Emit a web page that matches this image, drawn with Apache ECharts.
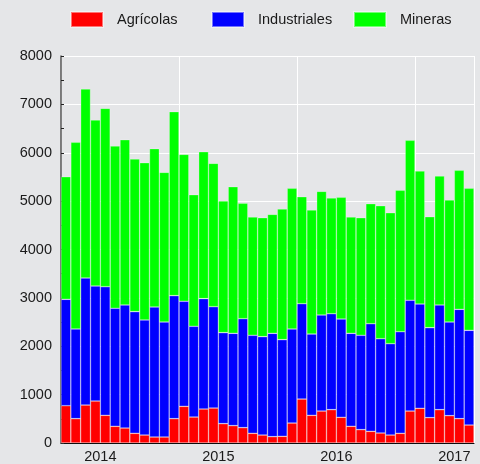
<!DOCTYPE html>
<html>
<head>
<meta charset="utf-8">
<script src="https://cdn.jsdelivr.net/npm/echarts@6/dist/echarts.min.js"></script>
<style>
html,body{margin:0;padding:0;background:#e5e6e8;}
#chart{width:480px;height:464px;}
</style>
</head>
<body>
<div id="chart"></div>
<script>
// Monthly categories Sep 2013 - Feb 2017
var months = [
  '2013-09','2013-10','2013-11','2013-12',
  '2014-01','2014-02','2014-03','2014-04','2014-05','2014-06','2014-07','2014-08','2014-09','2014-10','2014-11','2014-12',
  '2015-01','2015-02','2015-03','2015-04','2015-05','2015-06','2015-07','2015-08','2015-09','2015-10','2015-11','2015-12',
  '2016-01','2016-02','2016-03','2016-04','2016-05','2016-06','2016-07','2016-08','2016-09','2016-10','2016-11','2016-12',
  '2017-01','2017-02'
];
var agricolas = [771,503,785,868,572,345,310,200,165,124,124,503,758,537,703,723,400,359,317,200,165,131,138,413,909,572,661,689,531,345,276,241,207,165,200,661,717,524,689,565,503,372];
var industriales = [2199,1854,2626,2377,2659,2439,2543,2515,2378,2687,2377,2543,2171,1875,2281,2095,1881,1908,2253,2026,2033,2136,1998,1944,1971,1681,1985,1984,2032,1922,1950,2225,1949,1888,2101,2289,2156,1860,2164,1936,2260,1957];
var mineras = [2535,3859,3907,3432,3687,3356,3417,3156,3252,3274,3094,3804,3038,2722,3038,2963,2722,3032,2385,2446,2460,2460,2701,2908,2212,2563,2556,2392,2516,2405,2432,2482,2750,2708,2923,3307,2750,2295,2666,2522,2874,2936];
var yearTickPositions = [4,16,28,40];
var yearTickLabels = ['2014','2015','2016','2017'];
var seriesNames = ['Agrícolas','Industriales','Mineras'];

var FONT = 'Liberation Sans, Arial, sans-serif';
var chart = echarts.init(document.getElementById('chart'), null, {renderer:'canvas'});
var barStyle = function(c){ return {color:c, borderColor:'rgba(255,255,255,0.45)', borderWidth:0.6}; };
var legendLefts = [70, 211, 353];
var legends = seriesNames.map(function(n, i){
  return {
    left:legendLefts[i], top:11, padding:0, itemWidth:32, itemHeight:15,
    icon:'rect',
    textStyle:{fontFamily:FONT, fontSize:14.5, color:'#1a1a1a', padding:[0,0,0,9]},
    data:[n]
  };
});
chart.setOption({
  backgroundColor:'#e5e6e8',
  animation:false,
  textStyle:{fontFamily:FONT},
  color:['#ff0000','#0000ff','#00ff00'],
  legend:legends,
  grid:{left:61, right:6, top:56, bottom:21, containLabel:false},
  xAxis:[
    {type:'category', data:months, boundaryGap:true,
     axisLine:{show:true, lineStyle:{color:'#000', width:1}},
     axisTick:{show:false}, axisLabel:{show:false}, splitLine:{show:false}},
    {type:'value', min:0, max:42, interval:12, position:'bottom',
     axisLine:{show:false}, axisTick:{show:false},
     splitLine:{show:true, lineStyle:{color:'#ffffff', width:1}},
     axisLabel:{show:true, customValues:yearTickPositions, margin:6,
       formatter:function(v){var i=yearTickPositions.indexOf(v); return i>=0?yearTickLabels[i]:'';},
       fontFamily:FONT, fontSize:14.5, color:'#1a1a1a'}}
  ],
  yAxis:{
    type:'value', min:0, max:8000, interval:1000,
    axisLine:{show:true, lineStyle:{color:'#555', width:1.5}},
    axisTick:{show:true, inside:true, length:3, lineStyle:{color:'#222'}},
    minorTick:{show:true, splitNumber:2, length:3, lineStyle:{color:'#222'}},
    splitLine:{show:true, lineStyle:{color:'#ffffff', width:1}},
    axisLabel:{fontFamily:FONT, fontSize:14.5, color:'#1a1a1a', margin:9,
      formatter:function(v){return String(v);}}
  },
  series:[
    {name:seriesNames[0], type:'bar', stack:'t', data:agricolas, barCategoryGap:'0%', itemStyle:barStyle('#ff0000')},
    {name:seriesNames[1], type:'bar', stack:'t', data:industriales, barCategoryGap:'0%', itemStyle:barStyle('#0000ff')},
    {name:seriesNames[2], type:'bar', stack:'t', data:mineras, barCategoryGap:'0%', itemStyle:barStyle('#00ff00')}
  ]
});
</script>
</body>
</html>
